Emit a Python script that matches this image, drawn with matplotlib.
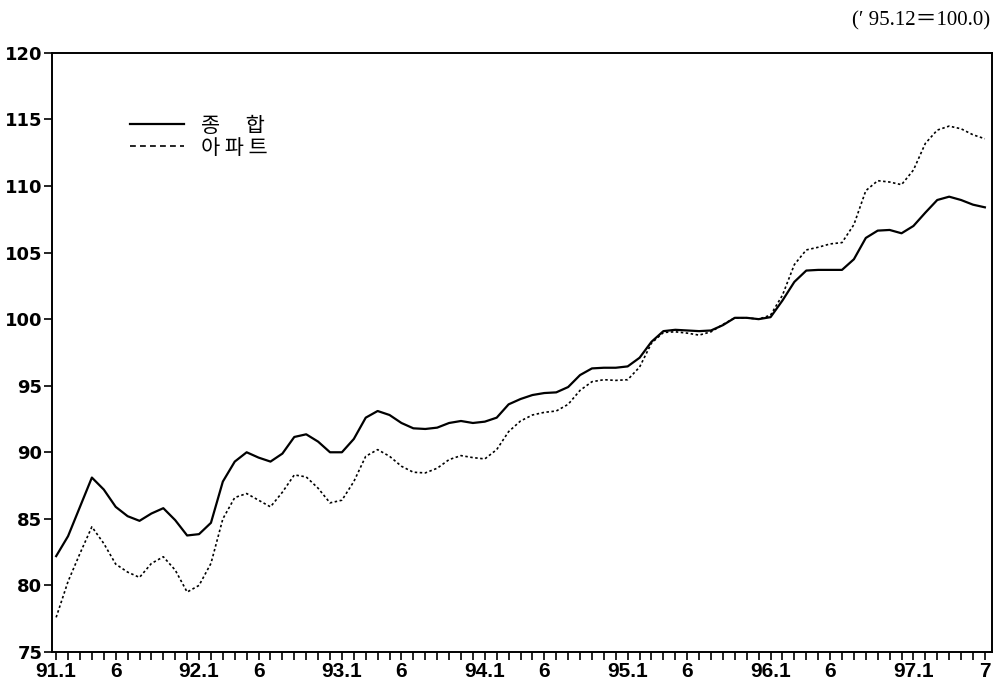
import matplotlib
matplotlib.use("Agg")
import matplotlib.pyplot as plt
from matplotlib.lines import Line2D

# monthly index, 91.1 ~ 97.7  ('95.12 = 100.0)
total = [82.2, 83.7, 85.9, 88.1, 87.2, 85.9, 85.2, 84.85, 85.4, 85.8, 84.9, 83.75,
         83.85, 84.7, 87.8, 89.3, 90.0, 89.6, 89.3, 89.9, 91.15, 91.35, 90.8, 90.0,
         90.0, 91.0, 92.6, 93.1, 92.8, 92.2, 91.8, 91.75, 91.85, 92.2, 92.35, 92.2,
         92.3, 92.6, 93.6, 94.0, 94.3, 94.45, 94.5, 94.9, 95.8, 96.3, 96.35, 96.35,
         96.45, 97.1, 98.3, 99.1, 99.2, 99.15, 99.1, 99.15, 99.55, 100.1, 100.1, 100.0,
         100.15, 101.4, 102.8, 103.65, 103.7, 103.7, 103.7, 104.5, 106.1, 106.65, 106.7, 106.45,
         107.0, 108.0, 108.95, 109.2, 108.95, 108.6, 108.4]
apt = [77.6, 80.3, 82.4, 84.4, 83.15, 81.6, 81.0, 80.6, 81.65, 82.15, 81.15, 79.5,
       80.0, 81.65, 85.0, 86.6, 86.9, 86.4, 85.9, 87.0, 88.3, 88.15, 87.3, 86.2,
       86.4, 87.8, 89.7, 90.2, 89.7, 88.95, 88.5, 88.45, 88.8, 89.45, 89.75, 89.6,
       89.5, 90.2, 91.55, 92.35, 92.8, 93.0, 93.1, 93.6, 94.65, 95.3, 95.45, 95.4,
       95.45, 96.4, 98.2, 99.0, 99.05, 98.95, 98.8, 99.05, 99.6, 100.1, 100.1, 100.0,
       100.3, 101.8, 104.1, 105.2, 105.4, 105.65, 105.75, 107.1, 109.65, 110.4, 110.3, 110.1,
       111.2, 113.2, 114.2, 114.5, 114.3, 113.85, 113.55]

tick_pos = [0, 5, 12, 17, 24, 29, 36, 41, 48, 53, 60, 65, 72, 78]
tick_txt = ["91.1", "6", "92.1", "6", "93.1", "6", "94.1", "6",
            "95.1", "6", "96.1", "6", "97.1", "7"]
y_ticks = [75, 80, 85, 90, 95, 100, 105, 110, 115, 120]

months = list(range(len(total)))

fig = plt.figure(figsize=(9.96, 6.87), dpi=100)
ax = fig.add_axes([0.0522, 0.051, 0.9438, 0.872])

ax.plot(months, total, color="black", lw=1.6, solid_joinstyle="round")
ax.plot(months, apt, color="black", lw=1.2, linestyle=(0, (1.5, 1.5)))

ax.set_xlim(-0.35, 78.6)
ax.set_ylim(75, 120)

# every month gets a tick, only some are labelled
labels = [""] * len(months)
for p, t in zip(tick_pos, tick_txt):
    labels[p] = t
ax.set_xticks(months)
ax.set_xticklabels(labels, fontfamily="Liberation Sans", fontweight="bold", fontsize=15)
ax.set_yticks(y_ticks)
ax.set_yticklabels([str(v) for v in y_ticks], fontweight="bold", fontsize=13)
ax.tick_params(axis="both", direction="out", length=6, width=1.2, color="black")
ax.tick_params(axis="x", pad=1)
ax.tick_params(axis="y", pad=1)

for s in ax.spines.values():
    s.set_linewidth(1.4)

handles = [Line2D([], [], color="black", lw=1.6),
           Line2D([], [], color="black", lw=1.2, linestyle=(0, (3.5, 2.5)))]
ax.legend(handles, ["종\u3000 합", "아 파 트"], loc="upper left",
          bbox_to_anchor=(0.083, 0.897), frameon=False, borderaxespad=0,
          borderpad=0, handlelength=2.6, handletextpad=0.8, labelspacing=0.0,
          prop={"family": ["Noto Sans CJK KR", "DejaVu Sans"], "size": 15})

fig.text(0.994, 0.97, "(′ 95.12＝100.0)", ha="right", va="center", fontsize=15,
         family=["Liberation Serif", "Noto Sans CJK KR"])

fig.savefig("out.png", dpi=100)
